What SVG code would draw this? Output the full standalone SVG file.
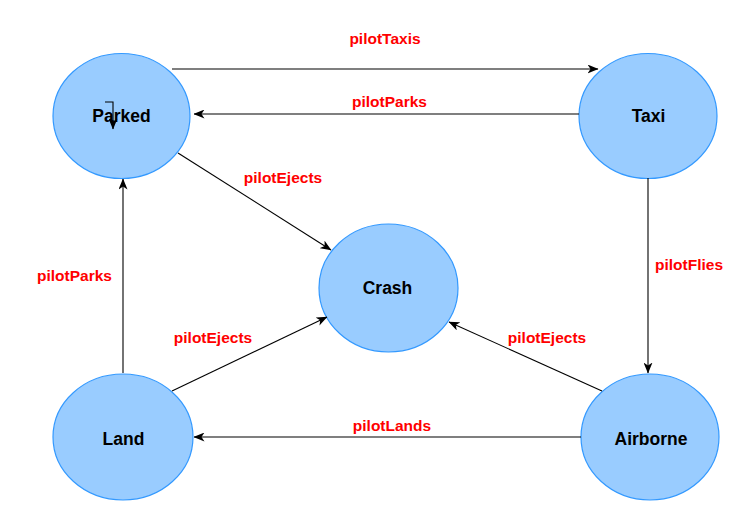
<svg xmlns="http://www.w3.org/2000/svg" width="750" height="521" viewBox="0 0 750 521">
<style>
.node{fill:#99CCFF;stroke:#3399FF;stroke-width:1.2}
.nl{font-family:"Liberation Sans",Arial,sans-serif;font-weight:bold;font-size:17.5px;fill:#000;text-anchor:middle}
.el{font-family:"Liberation Sans",Arial,sans-serif;font-weight:bold;font-size:15.5px;fill:#FF0000;text-anchor:middle}
.edge{fill:none;stroke:#000;stroke-width:1.1;marker-end:url(#arr)}
</style>
<defs>
<marker id="arr" viewBox="0 0 11 9" refX="10.5" refY="4.5" markerWidth="11" markerHeight="9" markerUnits="userSpaceOnUse" orient="auto">
<path d="M0,0 L11,4.5 L0,9 L3,4.5 Z" fill="#000"/>
</marker>
</defs>
<rect width="750" height="521" fill="#fff"/>
<g id="node-parked">
<ellipse class="node" cx="121.5" cy="116" rx="68.5" ry="62.5"/>
<text class="nl" x="121.5" y="122">Parked</text>
</g>
<g id="node-taxi">
<ellipse class="node" cx="648" cy="116" rx="69" ry="62.5"/>
<text class="nl" x="648.5" y="122">Taxi</text>
</g>
<g id="node-crash">
<ellipse class="node" cx="388.5" cy="288" rx="69.5" ry="64"/>
<text class="nl" x="387.5" y="294">Crash</text>
</g>
<g id="node-land">
<ellipse class="node" cx="123" cy="437" rx="70" ry="63"/>
<text class="nl" x="123.5" y="445">Land</text>
</g>
<g id="node-airborne">
<ellipse class="node" cx="650" cy="437" rx="69" ry="63"/>
<text class="nl" x="651" y="445">Airborne</text>
</g>
<g id="connectors">
<line class="edge" x1="172" y1="69" x2="598" y2="69"/>
<line class="edge" x1="579" y1="114" x2="194" y2="114"/>
<line class="edge" x1="178" y1="153" x2="331" y2="250"/>
<line class="edge" x1="648" y1="178" x2="648" y2="373"/>
<line class="edge" x1="602" y1="391" x2="449" y2="322"/>
<line class="edge" x1="581" y1="437" x2="194" y2="437"/>
<line class="edge" x1="172" y1="391" x2="327" y2="317"/>
<line class="edge" x1="123" y1="373" x2="123" y2="179"/>
<path class="edge" d="M105,102 H113 V129"/>
</g>
<g id="labels">
<text class="el" x="385" y="44">pilotTaxis</text>
<text class="el" x="389.5" y="107">pilotParks</text>
<text class="el" x="283" y="183">pilotEjects</text>
<text class="el" x="689" y="270">pilotFlies</text>
<text class="el" x="74.5" y="281">pilotParks</text>
<text class="el" x="213" y="343">pilotEjects</text>
<text class="el" x="547" y="343">pilotEjects</text>
<text class="el" x="392" y="431">pilotLands</text>
</g>
</svg>
